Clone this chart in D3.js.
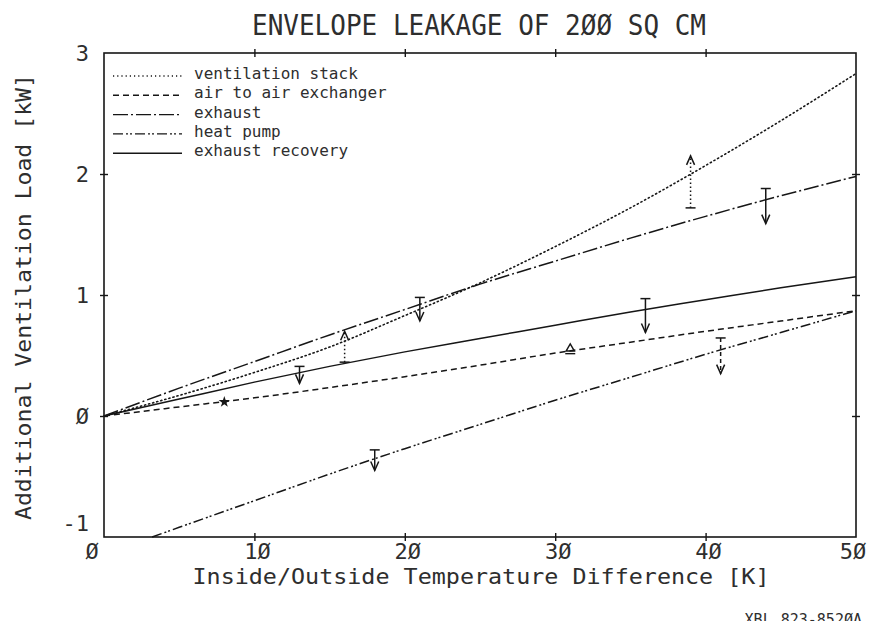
<!doctype html>
<html>
<head>
<meta charset="utf-8">
<script src="https://d3js.org/d3.v7.min.js"></script>
<style>
body { margin: 0; background: #fff; }
text { font-family: "DejaVu Sans Mono", monospace; fill: #2e2e2e; }
</style>
</head>
<body>
<svg id="chart" width="876" height="621"></svg>
<script>
// values (x = temperature difference K, y = load kW)
var xs        = [0, 5, 10, 15, 20, 25, 30, 35, 40, 45, 50];
var stack     = [0, 0.17, 0.36, 0.57, 0.83, 1.10, 1.40, 1.72, 2.07, 2.44, 2.83];
var exchanger = [0, 0.075, 0.15, 0.235, 0.325, 0.42, 0.52, 0.61, 0.70, 0.785, 0.87];
var exhaust   = [0, 0.23, 0.45, 0.67, 0.88, 1.09, 1.28, 1.47, 1.65, 1.82, 1.98];
var recovery  = [0, 0.14, 0.28, 0.41, 0.53, 0.64, 0.75, 0.86, 0.96, 1.06, 1.15];
var heatXs    = [3.2, 5, 10, 15, 20, 25, 30, 35, 40, 45, 50];
var heatPump  = [-1, -0.92, -0.70, -0.48, -0.27, -0.07, 0.13, 0.32, 0.51, 0.69, 0.87];

var seriesNames = ["ventilation stack", "air to air exchanger", "exhaust", "heat pump", "exhaust recovery"];

// arrows: x, value at the flat bar, value at the arrow tip
var arrowX    = [16, 39, 21, 44, 13, 36, 18, 41];
var arrowFrom = [0.445, 1.72, 0.98, 1.88, 0.41, 0.97, -0.28, 0.645];
var arrowTo   = [0.70, 2.15, 0.785, 1.59, 0.27, 0.69, -0.45, 0.35];
var arrowDash = ["dot", "dot", "solid", "solid", "solid", "solid", "solid", "dash"];

// small markers on the exchanger curve
var markX = [8, 31];
var markY = [0.116, 0.54];

var xTicks = [0, 10, 20, 30, 40, 50];
var xTickLabels = ["Ø", "1Ø", "2Ø", "3Ø", "4Ø", "5Ø"];
var yTicks = [-1, 0, 1, 2, 3];
var yTickLabels = ["-1", "Ø", "1", "2", "3"];

var svg = d3.select("#chart");
var pLeft = 104, pRight = 856, pTop = 53, pBottom = 537;

var x = d3.scaleLinear().domain([0, 50]).range([pLeft, pRight]);
var y = d3.scaleLinear().domain([-1, 3]).range([pBottom, pTop]);

var ink = "#161616";
var dashes = {
  "ventilation stack": "1.2,3",
  "air to air exchanger": "6,4",
  "exhaust": "15,3,2,3",
  "heat pump": "10,3,2,2,2,3",
  "exhaust recovery": null
};

// frame
svg.append("rect")
  .attr("x", pLeft).attr("y", pTop)
  .attr("width", pRight - pLeft).attr("height", pBottom - pTop)
  .style("fill", "none").style("stroke", ink).style("stroke-width", 1.6);

// frame ticks (crossing the frame)
function crossTicks(g) {
  g.select(".domain").remove();
  g.selectAll(".tick text").remove();
  g.selectAll(".tick line").style("stroke", ink).style("stroke-width", 1.4);
}
svg.append("g").attr("transform", "translate(0," + (pBottom + 4) + ")")
  .call(d3.axisBottom(x).tickValues([10, 20, 30, 40]).tickSize(8).tickFormat(""))
  .call(crossTicks).selectAll(".tick line").attr("y1", -8).attr("y2", 0);
svg.append("g").attr("transform", "translate(0," + (pTop + 4) + ")")
  .call(d3.axisBottom(x).tickValues([10, 20, 30, 40]).tickSize(8).tickFormat(""))
  .call(crossTicks).selectAll(".tick line").attr("y1", -8).attr("y2", 0);
svg.append("g").attr("transform", "translate(" + (pLeft - 4) + ",0)")
  .call(d3.axisRight(y).tickValues([0, 1, 2]).tickSize(8).tickFormat(""))
  .call(crossTicks);
svg.append("g").attr("transform", "translate(" + (pRight - 4) + ",0)")
  .call(d3.axisRight(y).tickValues([0, 1, 2]).tickSize(8).tickFormat(""))
  .call(crossTicks);

// tick labels
svg.append("g").selectAll("text").data(xTicks).join("text")
  .attr("x", function(d, i) { return x(d) + (i == 0 ? -12 : (i == xTicks.length - 1 ? -3 : 3)); })
  .attr("y", 559)
  .attr("text-anchor", "middle")
  .style("font-size", "22px")
  .text(function(d, i) { return xTickLabels[i]; });

svg.append("g").selectAll("text").data(yTicks).join("text")
  .attr("x", 89)
  .attr("y", function(d) { return y(d) + 8 + (d == -1 ? -14 : 0); })
  .attr("text-anchor", "end")
  .style("font-size", "22px")
  .text(function(d, i) { return yTickLabels[i]; });

// titles
svg.append("text")
  .attr("x", 479).attr("y", 35)
  .attr("text-anchor", "middle")
  .attr("textLength", 454).attr("lengthAdjust", "spacingAndGlyphs")
  .style("font-size", "29px")
  .text("ENVELOPE LEAKAGE OF 2ØØ SQ CM");

svg.append("text")
  .attr("x", 481).attr("y", 584)
  .attr("text-anchor", "middle")
  .attr("textLength", 577).attr("lengthAdjust", "spacingAndGlyphs")
  .style("font-size", "22px")
  .text("Inside/Outside Temperature Difference [K]");

svg.append("text")
  .attr("transform", "translate(31,297)rotate(-90)")
  .attr("text-anchor", "middle")
  .attr("textLength", 446).attr("lengthAdjust", "spacingAndGlyphs")
  .style("font-size", "22px")
  .text("Additional Ventilation Load [kW]");

svg.append("text")
  .attr("x", 862).attr("y", 625)
  .attr("text-anchor", "end")
  .style("font-size", "15px")
  .text("XBL 823-852ØA");

// curves
var line = d3.line()
  .x(function(d) { return x(d[0]); })
  .y(function(d) { return y(d[1]); })
  .curve(d3.curveMonotoneX);

var curves = [
  [seriesNames[0], xs, stack],
  [seriesNames[1], xs, exchanger],
  [seriesNames[2], xs, exhaust],
  [seriesNames[3], heatXs, heatPump],
  [seriesNames[4], xs, recovery]
];

curves.forEach(function(c) {
  svg.append("path")
    .datum(d3.zip(c[1], c[2]))
    .attr("d", line)
    .style("fill", "none")
    .style("stroke", ink)
    .style("stroke-width", c[0] == "ventilation stack" ? 1.6 : 1.5)
    .style("stroke-linecap", c[0] == "ventilation stack" ? "round" : "butt")
    .style("stroke-dasharray", dashes[c[0]]);
});

// arrows
var ga = svg.append("g").style("fill", "none").style("stroke", ink).style("stroke-width", 1.5);
arrowX.forEach(function(ax, i) {
  var px = x(ax), y0 = y(arrowFrom[i]), y1 = y(arrowTo[i]);
  var dir = y1 < y0 ? -1 : 1;
  ga.append("line")
    .attr("x1", px).attr("x2", px).attr("y1", y0).attr("y2", y1)
    .style("stroke-dasharray", arrowDash[i] == "dot" ? "1.5,2.5" : (arrowDash[i] == "dash" ? "4,3" : null));
  ga.append("line")
    .attr("x1", px - 5).attr("x2", px + 5).attr("y1", y0).attr("y2", y0);
  ga.append("path")
    .attr("d", "M" + (px - 4) + "," + (y1 - dir * 9) + "L" + px + "," + y1 + "L" + (px + 4) + "," + (y1 - dir * 9));
});

// markers on exchanger
svg.append("path")
  .attr("transform", "translate(" + x(markX[0]) + "," + y(markY[0]) + ")")
  .attr("d", d3.symbol(d3.symbolStar, 40)())
  .style("fill", ink);
svg.append("path")
  .attr("transform", "translate(" + x(markX[1]) + "," + (y(markY[1]) - 2) + ")")
  .attr("d", d3.symbol(d3.symbolTriangle, 30)())
  .style("fill", "none").style("stroke", ink).style("stroke-width", 1.4);
svg.append("line")
  .attr("x1", x(markX[1]) - 5).attr("x2", x(markX[1]) + 5)
  .attr("y1", y(markY[1]) + 3).attr("y2", y(markY[1]) + 3)
  .style("stroke", ink).style("stroke-width", 1.4);

// legend
var legend = svg.append("g");
seriesNames.forEach(function(name, i) {
  var ly = 79 + i * 19.3;
  legend.append("line")
    .attr("x1", 113).attr("x2", 182)
    .attr("y1", ly - 3).attr("y2", ly - 3)
    .style("stroke", ink).style("stroke-width", 1.4)
    .style("stroke-dasharray", dashes[name]);
  legend.append("text")
    .attr("x", 194).attr("y", ly)
    .style("font-size", "16px")
    .text(name);
});
</script>
</body>
</html>
